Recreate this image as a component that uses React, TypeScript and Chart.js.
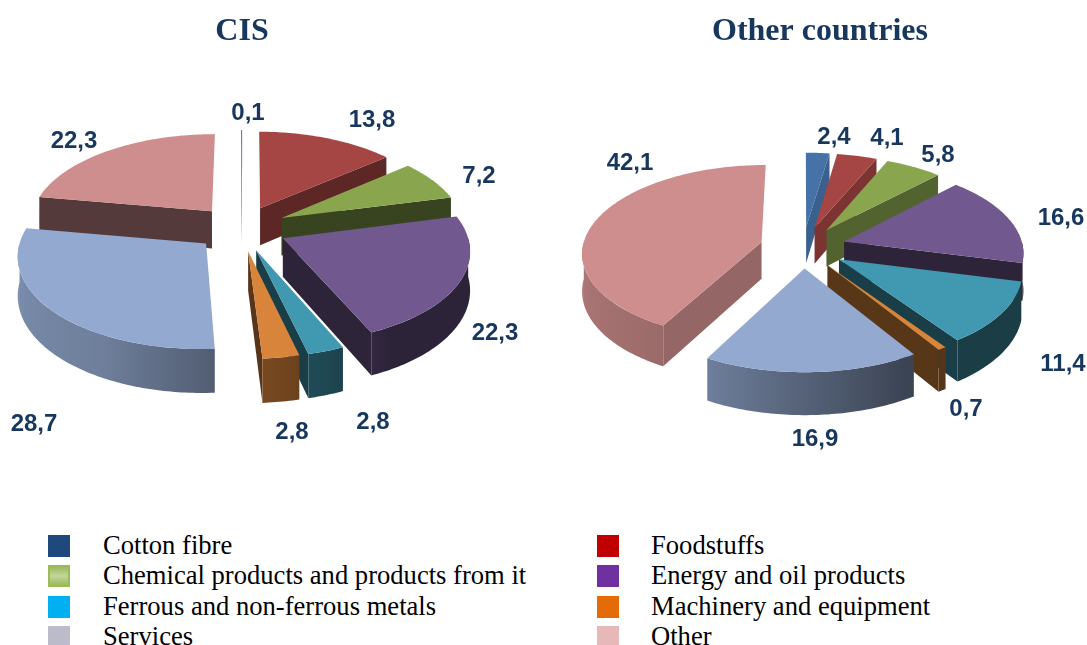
import React, { useEffect, useRef } from "react";
import { Chart, registerables } from "chart.js";

Chart.register(...registerables);

const categories = [
  "Cotton fibre",
  "Foodstuffs",
  "Chemical products and products from it",
  "Energy and oil products",
  "Ferrous and non-ferrous metals",
  "Machinery and equipment",
  "Services",
  "Other",
];
const cisValues = [0.1, 13.8, 7.2, 22.3, 2.8, 2.8, 28.7, 22.3];
const otherValues = [2.4, 4.1, 5.8, 16.6, 11.4, 0.7, 16.9, 42.1];

const sliceColors = ["#4573A7", "#A54544", "#89A64E", "#71588F", "#4099B0", "#D9843B", "#93A9CF", "#CE8E8D"];
const legendColors = ["#1F497D", "#C00000", "#9BBB59", "#7030A0", "#00B0F0", "#E36C09", "#BBBBC9", "#E6B9B8"];

const cisLabelOffsets: [number, number][] = [
  [7, -115], [131, -108], [238, -52], [254, 105], [132, 194], [51, 204], [-207, 196], [-167, -87],
];
const otherLabelOffsets: [number, number][] = [
  [31, -110], [84, -109], [135, -92], [258, -29], [260, 117], [163, 162], [12, 192], [-173, -84],
];

const TITLE_COLOR = "#17375E";
const lerpTable = (t: [number, number][], x: number) => {
  if (x <= t[0][0]) return t[0][1];
  for (let i = 1; i < t.length; i++) {
    if (x <= t[i][0]) {
      const f = (x - t[i - 1][0]) / (t[i][0] - t[i - 1][0]);
      return t[i - 1][1] + f * (t[i][1] - t[i - 1][1]);
    }
  }
  return t[t.length - 1][1];
};
const radialShade: [number, number][] = [[98, 0.85], [118, 0.72], [134, 0.6], [150, 0.5], [166, 0.41], [360, 0.4]];
const curvedShade: [number, number][] = [[150, 0.4], [176, 0.55], [208, 0.75], [270, 0.86], [360, 0.86]];

const shadeColor = (hex: string, f: number) => {
  const n = parseInt(hex.slice(1), 16);
  const r = Math.round(((n >> 16) & 255) * f);
  const g = Math.round(((n >> 8) & 255) * f);
  const b = Math.round((n & 255) * f);
  return `rgb(${r},${g},${b})`;
};
const normDeg = (rad: number) => {
  // clockwise degrees from the top of the pie
  let d = ((rad + Math.PI / 2) * 180) / Math.PI;
  d %= 360;
  if (d < 0) d += 360;
  return d;
};

const pie3d = {
  id: "pie3d",
  beforeDatasetDraw(chart: any, _args: any, opts: any) {
    const ctx: CanvasRenderingContext2D = chart.ctx;
    const { squash, depth, distance, labelOffsets, centerShift } = opts;
    const arcs = chart.getDatasetMeta(0).data as any[];
    const project = (cx: number, cy: number, X: number, Y: number, z: number): [number, number] => {
      const s = distance / (distance - Y);
      return [cx + X * s, cy + (Y * squash + z) * s];
    };
    const order = arcs
      .map((arc) => ({ arc, mid: (arc.startAngle + arc.endAngle) / 2 }))
      .sort((a, b) => Math.sin(a.mid) - Math.sin(b.mid));

    const poly = (pts: [number, number][], fill: string | CanvasGradient) => {
      ctx.beginPath();
      pts.forEach((p, k) => (k ? ctx.lineTo(p[0], p[1]) : ctx.moveTo(p[0], p[1])));
      ctx.closePath();
      ctx.fillStyle = fill;
      ctx.fill();
    };

    for (const { arc, mid } of order) {
      const { y: cy, outerRadius: R, startAngle: a0, endAngle: a1 } = arc;
      const cx = arc.x + centerShift;
      const e = arc.options.offset || 0;
      const ox = e * Math.cos(mid);
      const oy = e * Math.sin(mid);
      const base = arc.options.backgroundColor as string;
      const rim = (a: number, z: number) => project(cx, cy, ox + R * Math.cos(a), oy + R * Math.sin(a), z);
      const apex = (z: number) => project(cx, cy, ox, oy, z);

      // radial walls facing the viewer
      if (-Math.cos(a0) > 0) {
        const normal = normDeg(a0) - 90;
        poly([apex(0), rim(a0, 0), rim(a0, depth), apex(depth)], shadeColor(base, lerpTable(radialShade, normal)));
      }
      if (Math.cos(a1) > 0) {
        const normal = normDeg(a1) + 90;
        poly([apex(0), rim(a1, 0), rim(a1, depth), apex(depth)], shadeColor(base, lerpTable(radialShade, normal)));
      }
      // curved wall, only the part turned to the viewer, shaded along its width
      const from = Math.max(a0, 0);
      const to = Math.min(a1, Math.PI);
      if (to > from) {
        const steps = Math.max(4, Math.ceil((to - from) / (Math.PI / 180)));
        const upper: [number, number][] = [];
        const lower: [number, number][] = [];
        const angles: number[] = [];
        for (let k = 0; k <= steps; k++) {
          const a = from + ((to - from) * k) / steps;
          angles.push(a);
          upper.push(rim(a, 0));
          lower.push(rim(a, depth));
        }
        const x0 = upper[0][0];
        const x1 = upper[steps][0];
        const grad = ctx.createLinearGradient(x0, 0, x1, 0);
        angles.forEach((a, k) => {
          const t = Math.min(1, Math.max(0, (upper[k][0] - x0) / (x1 - x0 || 1)));
          grad.addColorStop(t, shadeColor(base, lerpTable(curvedShade, normDeg(a))));
        });
        poly([...upper, ...lower.reverse()], grad);
      }
      // top face
      const top: [number, number][] = [apex(0)];
      const n = Math.max(2, Math.ceil((a1 - a0) / (Math.PI / 180)));
      for (let k = 0; k <= n; k++) top.push(rim(a0 + ((a1 - a0) * k) / n, 0));
      poly(top, base);
    }

    // value labels
    const values = chart.data.datasets[0].data as number[];
    ctx.save();
    ctx.font = 'bold 24px "Liberation Sans", Arial, sans-serif';
    ctx.fillStyle = TITLE_COLOR;
    ctx.textAlign = "center";
    ctx.textBaseline = "middle";
    values.forEach((v, i) => {
      const arc = arcs[i];
      const [dx, dy] = labelOffsets[i];
      ctx.fillText(v.toFixed(1).replace(".", ","), arc.x + centerShift + dx, arc.y + dy);
    });
    ctx.restore();
    return false;
  },
};

type PieProps = {
  title: string;
  values: number[];
  left: number;
  width: number;
  bottomPad: number;
  radius: number;
  explode: number;
  squash: number;
  depth: number;
  centerShift: number;
  labelOffsets: [number, number][];
};

const CANVAS_HEIGHT = 500;

function Pie3D({ title, values, left, width, bottomPad, radius, explode, squash, depth, centerShift, labelOffsets }: PieProps) {
  const ref = useRef<HTMLCanvasElement>(null);
  useEffect(() => {
    const chart = new Chart(ref.current as HTMLCanvasElement, {
      type: "pie",
      data: {
        labels: categories,
        datasets: [{ data: values, backgroundColor: sliceColors, borderWidth: 0, offset: explode, hoverOffset: 0 }],
      },
      options: {
        animation: false,
        responsive: false,
        radius,
        rotation: 0,
        events: [],
        layout: { padding: { bottom: bottomPad } },
        plugins: {
          legend: { display: false },
          tooltip: { enabled: false },
          title: {
            display: true,
            text: title,
            color: TITLE_COLOR,
            font: { family: '"Liberation Serif", "Times New Roman", serif', size: 32, weight: "bold", lineHeight: 1.2 },
            padding: { top: 13, bottom: 9 },
          },
          pie3d: { squash, depth, distance: 1600, labelOffsets, centerShift },
        },
      } as any,
      plugins: [pie3d as any],
    });
    return () => chart.destroy();
  }, []);
  return (
    <canvas
      ref={ref}
      width={width}
      height={CANVAS_HEIGHT}
      style={{ position: "absolute", left, top: 0, width, height: CANVAS_HEIGHT }}
    />
  );
}

export default function App() {
  return (
    <div style={{ position: "absolute", left: 0, top: 0, width: 1087, height: 645, overflow: "hidden", background: "#fff" }}>
      <Pie3D title="CIS" values={cisValues} left={-58} width={600} bottomPad={104} radius={183} explode={46} squash={0.49} depth={38} centerShift={-1} labelOffsets={cisLabelOffsets} />
      <Pie3D title="Other countries" values={otherValues} left={553} width={534} bottomPad={66} radius={179} explode={43} squash={0.485} depth={37} centerShift={-17} labelOffsets={otherLabelOffsets} />
      {categories.map((c, i) => {
        const col = i % 2;
        const row = Math.floor(i / 2);
        const top = 535 + row * 30.3;
        return (
          <React.Fragment key={c}>
            <div
              style={{
                position: "absolute",
                left: col ? 597 : 48,
                top,
                width: 22,
                height: 22,
                boxSizing: "border-box",
                background:
                  i === 2
                    ? "linear-gradient(#9BBB59 0%, #C3D69B 50%, #9BBB59 100%)"
                    : legendColors[i],
                border: i === 2 ? "2px solid #9BBB59" : undefined,
              }}
            />
            <div
              style={{
                position: "absolute",
                left: col ? 651 : 103,
                top: top - 5,
                height: 30,
                lineHeight: "30px",
                whiteSpace: "nowrap",
                color: "#000",
                fontFamily: '"Liberation Serif", "Times New Roman", serif',
                fontSize: 26.6,
              }}
            >
              {c}
            </div>
          </React.Fragment>
        );
      })}
    </div>
  );
}
